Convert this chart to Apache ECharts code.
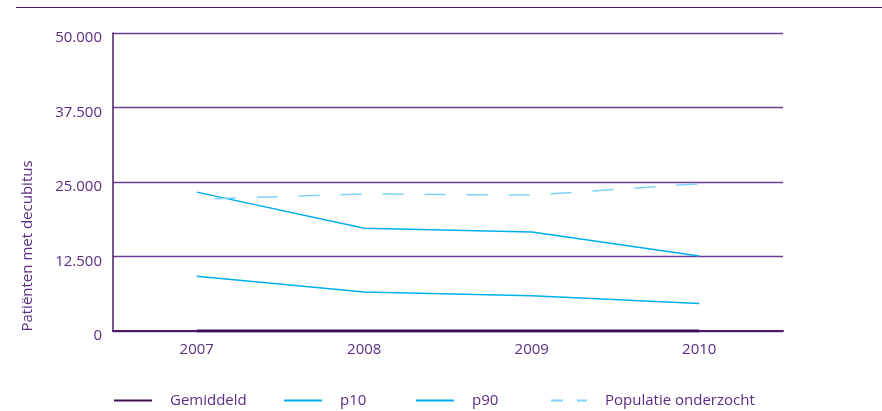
<!DOCTYPE html>
<html>
<head>
<meta charset="utf-8">
<script src="https://cdn.jsdelivr.net/npm/echarts@6/dist/echarts.min.js"></script>
<style>
  html, body { margin: 0; padding: 0; background: #fff; }
  #chart { width: 882px; height: 411px; }
</style>
</head>
<body>
<div id="chart"></div>
<script>
// Jaren op de x-as
const years = ['2007', '2008', '2009', '2010'];

// Aantal patiënten met decubitus per jaar
const gemiddeld = [0, 0, 0, 0];
const p10 = [9200, 6550, 5900, 4600];
const p90 = [23300, 17250, 16600, 12600];
const populatieOnderzocht = [22100, 23000, 22800, 24700];

// Y-as schaal
const yMin = 0;
const yMax = 50000;
const yStep = 12500;

const purple = '#4a1a6b';
const textPurple = '#5a2d82';
const blue = '#00aeef';
const lightBlue = '#7fd3f6';
const font = 'Open Sans';

function formatNl(v) {
  return String(v).replace(/\B(?=(\d{3})+(?!\d))/g, '.');
}

const chart = echarts.init(document.getElementById('chart'));

function legendAt(name, left, extra) {
  return Object.assign({
    data: [name],
    left: left,
    top: 393,
    itemWidth: 38,
    itemHeight: 16,
    padding: 0,
    selectedMode: false,
    itemStyle: { opacity: 0, borderWidth: 0 },
    textStyle: {
      color: textPurple,
      fontFamily: font,
      fontSize: 15,
      padding: [0, 0, 0, 13]
    }
  }, extra || {});
}

chart.setOption({
  animation: false,
  grid: { left: 113, right: 99, top: 33, bottom: 80, containLabel: false },
  graphic: [
    {
      type: 'line',
      shape: { x1: 16, y1: 7.5, x2: 882, y2: 7.5 },
      style: { stroke: purple, lineWidth: 1 },
      silent: true
    },
    {
      type: 'text',
      x: 28,
      y: 246,
      rotation: Math.PI / 2,
      style: {
        text: 'Patiënten met decubitus',
        fill: textPurple,
        font: '15px "Open Sans"',
        align: 'center',
        verticalAlign: 'middle'
      },
      silent: true
    }
  ],
  legend: [
    legendAt('Gemiddeld', 113),
    legendAt('p10', 283),
    legendAt('p90', 415),
    legendAt('Populatie onderzocht', 548, { lineStyle: { type: [12, 14] } })
  ],
  xAxis: {
    type: 'category',
    data: years,
    boundaryGap: true,
    axisLine: { lineStyle: { color: purple, width: 2 } },
    axisTick: { show: false },
    axisLabel: { color: textPurple, fontFamily: font, fontSize: 15, margin: 11 }
  },
  yAxis: {
    type: 'value',
    min: yMin,
    max: yMax,
    interval: yStep,
    axisLine: { show: true, lineStyle: { color: purple, width: 1.5 } },
    axisTick: { show: false },
    splitLine: { lineStyle: { color: '#6a3f8e', width: 1.3 } },
    axisLabel: {
      color: textPurple,
      fontFamily: font,
      fontSize: 15,
      margin: 11,
      verticalAlign: 'top',
      lineHeight: 10,
      formatter: formatNl
    }
  },
  series: [
    {
      name: 'Gemiddeld',
      type: 'line',
      data: gemiddeld,
      symbol: 'none',
      lineStyle: { color: '#3c1053', width: 3 },
      itemStyle: { color: '#3c1053' },
      z: 3
    },
    {
      name: 'p10',
      type: 'line',
      data: p10,
      symbol: 'none',
      lineStyle: { color: blue, width: 1.5 },
      itemStyle: { color: blue }
    },
    {
      name: 'p90',
      type: 'line',
      data: p90,
      symbol: 'none',
      lineStyle: { color: blue, width: 1.5 },
      itemStyle: { color: blue }
    },
    {
      name: 'Populatie onderzocht',
      type: 'line',
      data: populatieOnderzocht,
      symbol: 'none',
      lineStyle: { color: lightBlue, width: 1.5, type: [21, 21], dashOffset: 24 },
      itemStyle: { color: lightBlue }
    }
  ]
});
</script>
</body>
</html>
